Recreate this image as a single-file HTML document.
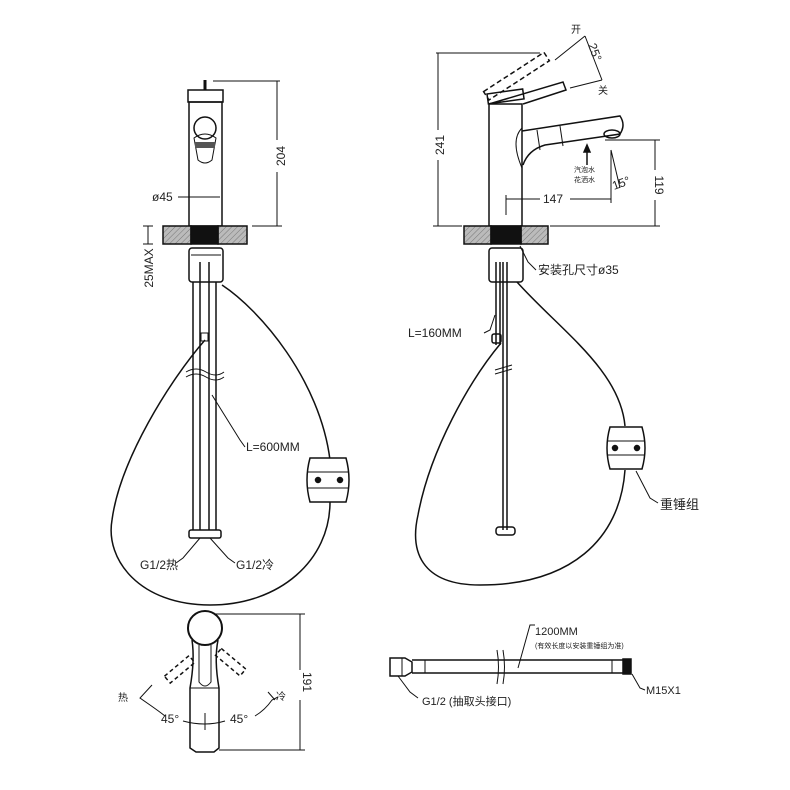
<!DOCTYPE html>
<html><head><meta charset="utf-8"><style>
body{margin:0;background:#fff}
svg{display:block}
text{font-family:"Liberation Sans","Noto Sans CJK SC",sans-serif;fill:#222}
</style></head><body>
<svg width="790" height="790" viewBox="0 0 790 790" xmlns="http://www.w3.org/2000/svg">
<defs>
<pattern id="h" width="4" height="4" patternUnits="userSpaceOnUse" patternTransform="rotate(45)">
<rect width="4" height="4" fill="#bbb"/><line x1="0" y1="0" x2="0" y2="4" stroke="#777" stroke-width="1"/>
</pattern>
</defs>
<g fill="none" stroke="#111" stroke-width="1.5">
<!-- LEFT FAUCET -->
<line x1="205" y1="80" x2="205" y2="90" stroke-width="3"/>
<rect x="188" y="90" width="35" height="12"/>
<rect x="189" y="102" width="33" height="124"/>
<circle cx="205" cy="128" r="11"/>
<path d="M194 138 Q205 130 216 138 L212 160 Q205 166 198 160 Z" stroke-width="1"/>
<rect x="195" y="142" width="20" height="6" fill="#555" stroke="none"/>
<line x1="213" y1="81" x2="280" y2="81" stroke-width="1"/>
<line x1="252" y1="226" x2="282" y2="226" stroke-width="1"/>
<line x1="277" y1="81" x2="277" y2="140" stroke-width="1"/>
<line x1="277" y1="172" x2="277" y2="226" stroke-width="1"/>
<line x1="178" y1="197" x2="220" y2="197" stroke-width="1"/>
<rect x="163" y="226" width="28" height="18" fill="url(#h)"/>
<rect x="218" y="226" width="29" height="18" fill="url(#h)"/>
<rect x="191" y="226" width="27" height="18" fill="#111"/>
<path d="M143 226 H153 M148 226 V244 M143 244 H153" stroke-width="1"/>
<rect x="189" y="248" width="34" height="34" rx="3"/>
<line x1="191" y1="255" x2="221" y2="255" stroke-width="1"/>
<line x1="193" y1="282" x2="193" y2="530"/><line x1="200" y1="262" x2="200" y2="530"/>
<line x1="209" y1="262" x2="209" y2="530"/><line x1="216" y1="282" x2="216" y2="530"/>
<rect x="201" y="333" width="7" height="8" stroke-width="1"/>
<path d="M186 372 Q196 366 206 372 T224 372 M186 377 Q196 371 206 377 T224 377" stroke-width="1"/>
<rect x="189" y="530" width="32" height="8" rx="2"/>
<path d="M222 285 C260 310 320 380 330 460" />
<path d="M330 502 C330 560 280 605 210 605 C140 605 105 560 112 520 C120 460 170 380 205 340"/>
<path d="M310 458 H346 Q352 480 346 502 H310 Q304 480 310 458 Z" fill="#fff"/>
<line x1="308" y1="472" x2="348" y2="472" stroke-width="1"/><line x1="308" y1="488" x2="348" y2="488" stroke-width="1"/>
<circle cx="318" cy="480" r="2.5" fill="#111"/><circle cx="340" cy="480" r="2.5" fill="#111"/>
<path d="M212 395 L240 440 L245 447" stroke-width="1"/>
<path d="M200 538 L183 558 L176 563 M210 538 L228 558 L235 563" stroke-width="1"/>
<!-- RIGHT FAUCET -->
<rect x="487" y="94" width="36" height="10" transform="rotate(-8 487 94)"/>
<path d="M489 104 L563 82 L566 90 L523 104" />
<rect x="489" y="90" width="72" height="10" stroke-dasharray="5,3" transform="rotate(-33 489 100)"/>
<rect x="489" y="104" width="33" height="122"/>
<path d="M522 131 L620 116 Q626 125 620 134 L600 137 L545 145 Q528 150 523 165"/>
<path d="M522 128 Q510 140 522 168" stroke-width="1"/>
<line x1="537" y1="130" x2="540" y2="150" stroke-width="1"/><line x1="560" y1="126" x2="563" y2="146" stroke-width="1"/>
<ellipse cx="612" cy="134" rx="8" ry="4"/>
<line x1="436" y1="53" x2="540" y2="53" stroke-width="1"/>
<line x1="438" y1="53" x2="438" y2="130" stroke-width="1"/><line x1="438" y1="160" x2="438" y2="226" stroke-width="1"/>
<line x1="433" y1="226" x2="462" y2="226" stroke-width="1"/>
<line x1="550" y1="226" x2="660" y2="226" stroke-width="1"/>
<line x1="605" y1="140" x2="660" y2="140" stroke-width="1"/>
<line x1="655" y1="140" x2="655" y2="170" stroke-width="1"/><line x1="655" y1="200" x2="655" y2="226" stroke-width="1"/>
<path d="M506 195 V215 M506 199 H540 M570 199 H611 M611 150 V203 M611 150 L620 188" stroke-width="1"/>
<path d="M555 60 L585 36 M585 36 L602 80 M570 88 L602 80" stroke-width="1"/>
<path d="M587 148 V165" stroke-width="1.5"/><path d="M584 152 L587 145 L590 152 Z" fill="#111"/>
<rect x="464" y="226" width="27" height="18" fill="url(#h)"/>
<rect x="521" y="226" width="27" height="18" fill="url(#h)"/>
<rect x="491" y="226" width="30" height="18" fill="#111"/>
<rect x="489" y="248" width="34" height="34" rx="3"/>
<path d="M520 246 L528 262 L536 270" stroke-width="1"/>
<line x1="496" y1="262" x2="496" y2="345"/><line x1="500" y1="262" x2="500" y2="345"/>
<line x1="503" y1="262" x2="503" y2="530"/><line x1="507" y1="262" x2="507" y2="530"/>
<rect x="492" y="334" width="9" height="9" rx="2"/>
<path d="M495 370 L512 365 M495 374 L512 369" stroke-width="1"/>
<rect x="496" y="527" width="19" height="8" rx="3"/>
<path d="M495 315 L490 330 L484 333" stroke-width="1"/>
<path d="M517 282 C560 330 620 370 625 426"/>
<path d="M625 470 C620 540 570 585 480 585 C420 585 410 550 418 515 C430 450 470 380 501 343"/>
<path d="M610 427 H642 Q648 448 642 469 H610 Q604 448 610 427 Z" fill="#fff"/>
<line x1="608" y1="441" x2="644" y2="441" stroke-width="1"/><line x1="608" y1="455" x2="644" y2="455" stroke-width="1"/>
<circle cx="615" cy="448" r="2.5" fill="#111"/><circle cx="637" cy="448" r="2.5" fill="#111"/>
<path d="M636 471 L650 498 L658 503" stroke-width="1"/>
<!-- BOTTOM LEFT -->
<circle cx="205" cy="628" r="17" stroke-width="2"/>
<path d="M192 640 Q195 660 190 688 V748 L196 752 H214 L219 748 V688 Q214 660 218 640"/>
<path d="M199 645 V682 Q205 690 211 682 V645" stroke-width="1"/>
<line x1="190" y1="688" x2="219" y2="688" stroke-width="1"/>
<rect x="160" y="656" width="32" height="9" stroke-dasharray="4,3" transform="rotate(-40 190 660)"/>
<rect x="220" y="648" width="32" height="9" stroke-dasharray="4,3" transform="rotate(40 220 650)"/>
<path d="M215 614 H305 M219 750 H305 M300 614 V670 M300 700 V750" stroke-width="1"/>
<path d="M152 685 L140 698 L150 705 Q160 712 165 716" stroke-width="1"/>
<path d="M183 721 Q205 727 225 721" stroke-width="1"/>
<path d="M205 713 V730" stroke-width="1"/>
<path d="M255 716 Q265 710 272 700 L278 697 M268 692 L275 700" stroke-width="1"/>
<!-- HOSE -->
<path d="M390 658 H405 L412 662 V672 L405 676 H390 Z" fill="#fff"/>
<line x1="402" y1="658" x2="402" y2="676" stroke-width="1"/>
<line x1="412" y1="660" x2="623" y2="660"/><line x1="412" y1="673" x2="623" y2="673"/>
<line x1="425" y1="660" x2="425" y2="673" stroke-width="1"/><line x1="612" y1="660" x2="612" y2="673" stroke-width="1"/>
<rect x="623" y="659" width="8" height="15" fill="#111"/>
<path d="M497 650 Q500 667 497 684 M503 650 Q506 667 503 684" stroke-width="1"/>
<path d="M518 668 L530 625 L535 625" stroke-width="1"/>
<path d="M398 676 L410 692 L418 698 M632 674 L640 688 L645 690" stroke-width="1"/>
</g>
<g font-size="12">
<text transform="translate(282,156) rotate(-90)" text-anchor="middle" dominant-baseline="middle">204</text>
<text x="152" y="201">ø45</text>
<text transform="translate(150,268) rotate(-90)" text-anchor="middle" dominant-baseline="middle">25MAX</text>
<text x="246" y="451">L=600MM</text>
<text x="140" y="569">G1/2热</text>
<text x="236" y="569">G1/2冷</text>
<text transform="translate(441,145) rotate(-90)" text-anchor="middle" dominant-baseline="middle">241</text>
<text transform="translate(658,185) rotate(90)" text-anchor="middle" dominant-baseline="middle">119</text>
<text x="543" y="203">147</text>
<text x="571" y="33" font-size="10">开</text>
<text x="598" y="94" font-size="10">关</text>
<text transform="translate(588,45) rotate(70)" font-size="12">25°</text>
<text transform="translate(614,190) rotate(-20)" font-size="12">15°</text>
<text x="574" y="172" font-size="7">汽泡水</text>
<text x="574" y="182" font-size="7">花洒水</text>
<text x="538" y="274">安装孔尺寸ø35</text>
<text x="408" y="337">L=160MM</text>
<text x="660" y="509" font-size="13">重锤组</text>
<text x="118" y="701" font-size="10">热</text>
<text x="276" y="700" font-size="10">冷</text>
<text x="161" y="723">45°</text>
<text x="230" y="723">45°</text>
<text transform="translate(306,682) rotate(90)" text-anchor="middle" dominant-baseline="middle">191</text>
<text x="535" y="635" font-size="11">1200MM</text>
<text x="535" y="648" font-size="7">(有效长度以安装重锤组为准)</text>
<text x="422" y="705" font-size="11">G1/2 (抽取头接口)</text>
<text x="646" y="694" font-size="11">M15X1</text>
</g>
</svg>
</body></html>
